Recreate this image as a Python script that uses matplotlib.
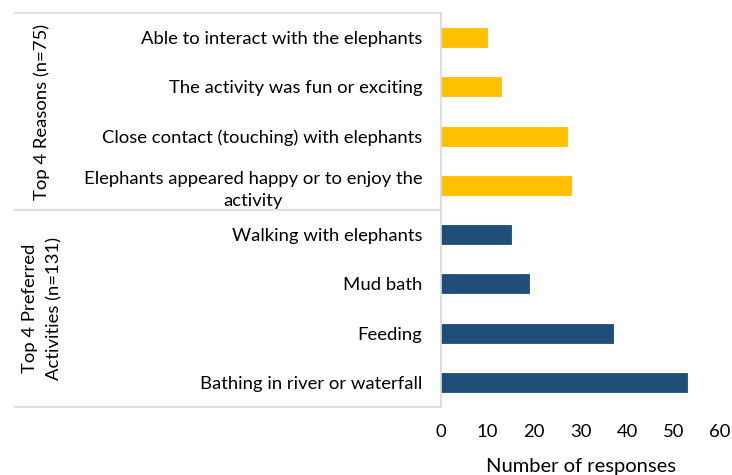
import matplotlib
matplotlib.use("Agg")
import matplotlib.pyplot as plt
import numpy as np

# data, top to bottom as drawn
labels = ["Able to interact with the elephants",
          "The activity was fun or exciting",
          "Close contact (touching) with elephants",
          "Elephants appeared happy or to enjoy the\nactivity",
          "Walking with elephants",
          "Mud bath",
          "Feeding",
          "Bathing in river or waterfall"]
values = [10, 13, 27, 28, 15, 19, 37, 53]
groups = ["Top 4 Reasons (n=75)", "Top 4 Preferred\nActivities (n=131)"]
group_sizes = [4, 4]
group_colors = ["#FFC000", "#1F4E79"]
xticks = [0, 10, 20, 30, 40, 50, 60]

plt.rcParams['font.family'] = ['Lato', 'DejaVu Sans']

W, H = 732, 475
left, right = 441, 720
fig = plt.figure(figsize=(W / 100, H / 100), dpi=100)
ax = fig.add_axes([left / W, 1 - 407 / H, (right - left) / W, (407 - 13) / H])

colors = []
for c, n in zip(group_colors, group_sizes):
    colors += [c] * n
y = np.arange(len(labels))
ax.barh(y, values, height=0.39, color=colors, edgecolor=colors, linewidth=0.6)

ax.set_ylim(len(labels) - 0.5, -0.5)
ax.set_xlim(0, 60)
ax.set_xticks(xticks)
ax.set_yticks(y)
ax.set_yticklabels(labels, fontsize=13.3)
for t in ax.get_yticklabels():
    t.set_multialignment('center')
    t.set_linespacing(1.45)
ax.tick_params(axis='y', length=0, pad=13.5)
ax.tick_params(axis='x', length=0, pad=12, labelsize=13.3)
ax.set_xlabel("Number of responses", fontsize=14.5, labelpad=13)

for s in ['top', 'right', 'bottom']:
    ax.spines[s].set_visible(False)
ax.spines['left'].set_color('#d9d9d9')
ax.spines['left'].set_linewidth(1.2)

# group separators and labels on the category axis
x0 = (15 - left) / (right - left)
line_kw = dict(color='#d9d9d9', lw=1.2, clip_on=False, transform=ax.get_yaxis_transform())
start = -0.5
ax.plot([x0, 0], [start, start], **line_kw)
for g, n in zip(groups, group_sizes):
    end = start + n
    ax.plot([x0, 0], [end, end], **line_kw)
    ax.text((42 - left) / (right - left), (start + end) / 2, g, rotation=90,
            ha='center', va='center', multialignment='center', fontsize=13.3,
            linespacing=1.6, transform=ax.get_yaxis_transform())
    start = end

fig.savefig("out.png", dpi=100)
